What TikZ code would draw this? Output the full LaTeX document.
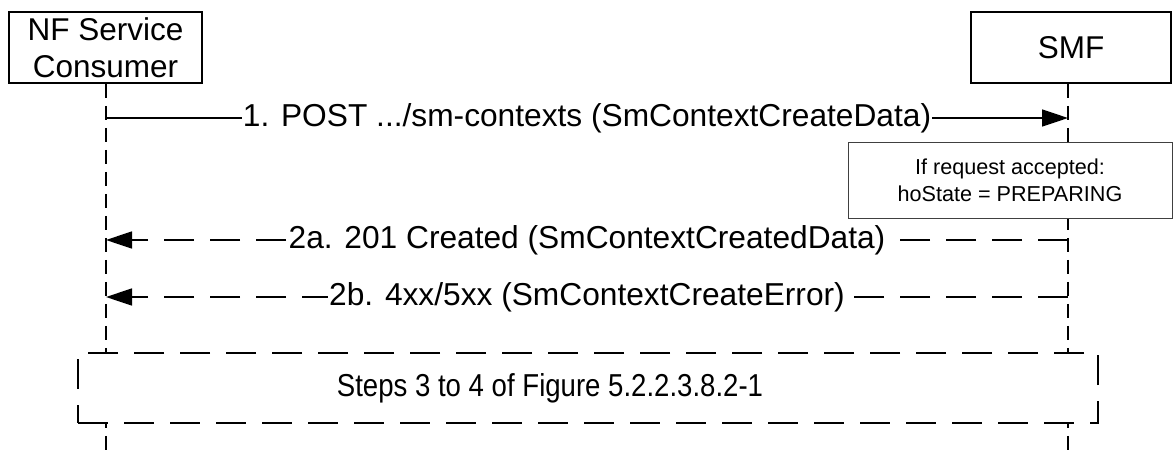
\documentclass[tikz,border=0pt]{standalone}
\usepackage{fontspec}
\setmainfont{Liberation Sans}
\usetikzlibrary{arrows.meta}

\begin{document}
\begin{tikzpicture}[x=1pt, y=-1pt,
    entity/.style={draw, line width=1.5pt, minimum height=71pt, align=center, inner sep=0pt,
        font=\fontsize{31.5}{37}\selectfont},
    lifeline/.style={line width=1.5pt, dash pattern=on 14pt off 8pt},
    msg/.style={line width=1.5pt, -{Triangle[length=26pt, width=17pt]}},
    reply/.style={msg, dash pattern=on 30pt off 16pt},
    msglabel/.style={fill=white, inner xsep=1pt, inner ysep=1pt, font=\fontsize{31.7}{37}\selectfont}]
    \useasboundingbox (0,0) rectangle (1174,450);
    % participants
    \node[entity, minimum width=193pt] (nfc) at (105.5,47.5) {NF Service\\Consumer};
    \node[entity, minimum width=200pt] (smf) at (1071,47.5) {SMF};
    \coordinate (nfc end) at (106,450);
    \coordinate (smf end) at (1068,450);
    \draw[lifeline] (nfc.south -| nfc end) -- (nfc end);
    \draw[lifeline] (smf.south -| smf end) -- (smf end);
    % message coordinates on the lifelines
    \coordinate (nfc 1) at (106,118);
    \coordinate (smf 1) at (1068,118);
    \coordinate (nfc 2a) at (106,240);
    \coordinate (smf 2a) at (1068,240);
    \coordinate (nfc 2b) at (106,297);
    \coordinate (smf 2b) at (1068,297);
    % messages
    \draw[msg] (nfc 1) -- node[msglabel] {1. POST .../sm-contexts (SmContextCreateData)} (smf 1);
    \node[draw=black!75, line width=1pt, fill=white, minimum width=324pt, minimum height=76pt,
        align=center, font=\fontsize{21.6}{27}\selectfont] (note) at (1010,180.5)
        {If request accepted:\\hoState = PREPARING};
    \draw[reply] (smf 2a) -- node[msglabel] {2a. 201 Created (SmContextCreatedData)} (nfc 2a);
    \draw[reply] (smf 2b) -- node[msglabel] {2b. 4xx/5xx (SmContextCreateError)} (nfc 2b);
    % referenced steps
    \node[draw, line width=1.5pt, dash pattern=on 30pt off 16pt, fill=white, minimum width=1020pt,
        minimum height=70pt] (steps) at (588,388) {};
    \node[font=\fontsize{31.7}{37}\selectfont] (steps text) at (550,388)
        {\scalebox{0.87}[1]{Steps 3 to 4 of Figure 5.2.2.3.8.2-1}};
\end{tikzpicture}
\end{document}
